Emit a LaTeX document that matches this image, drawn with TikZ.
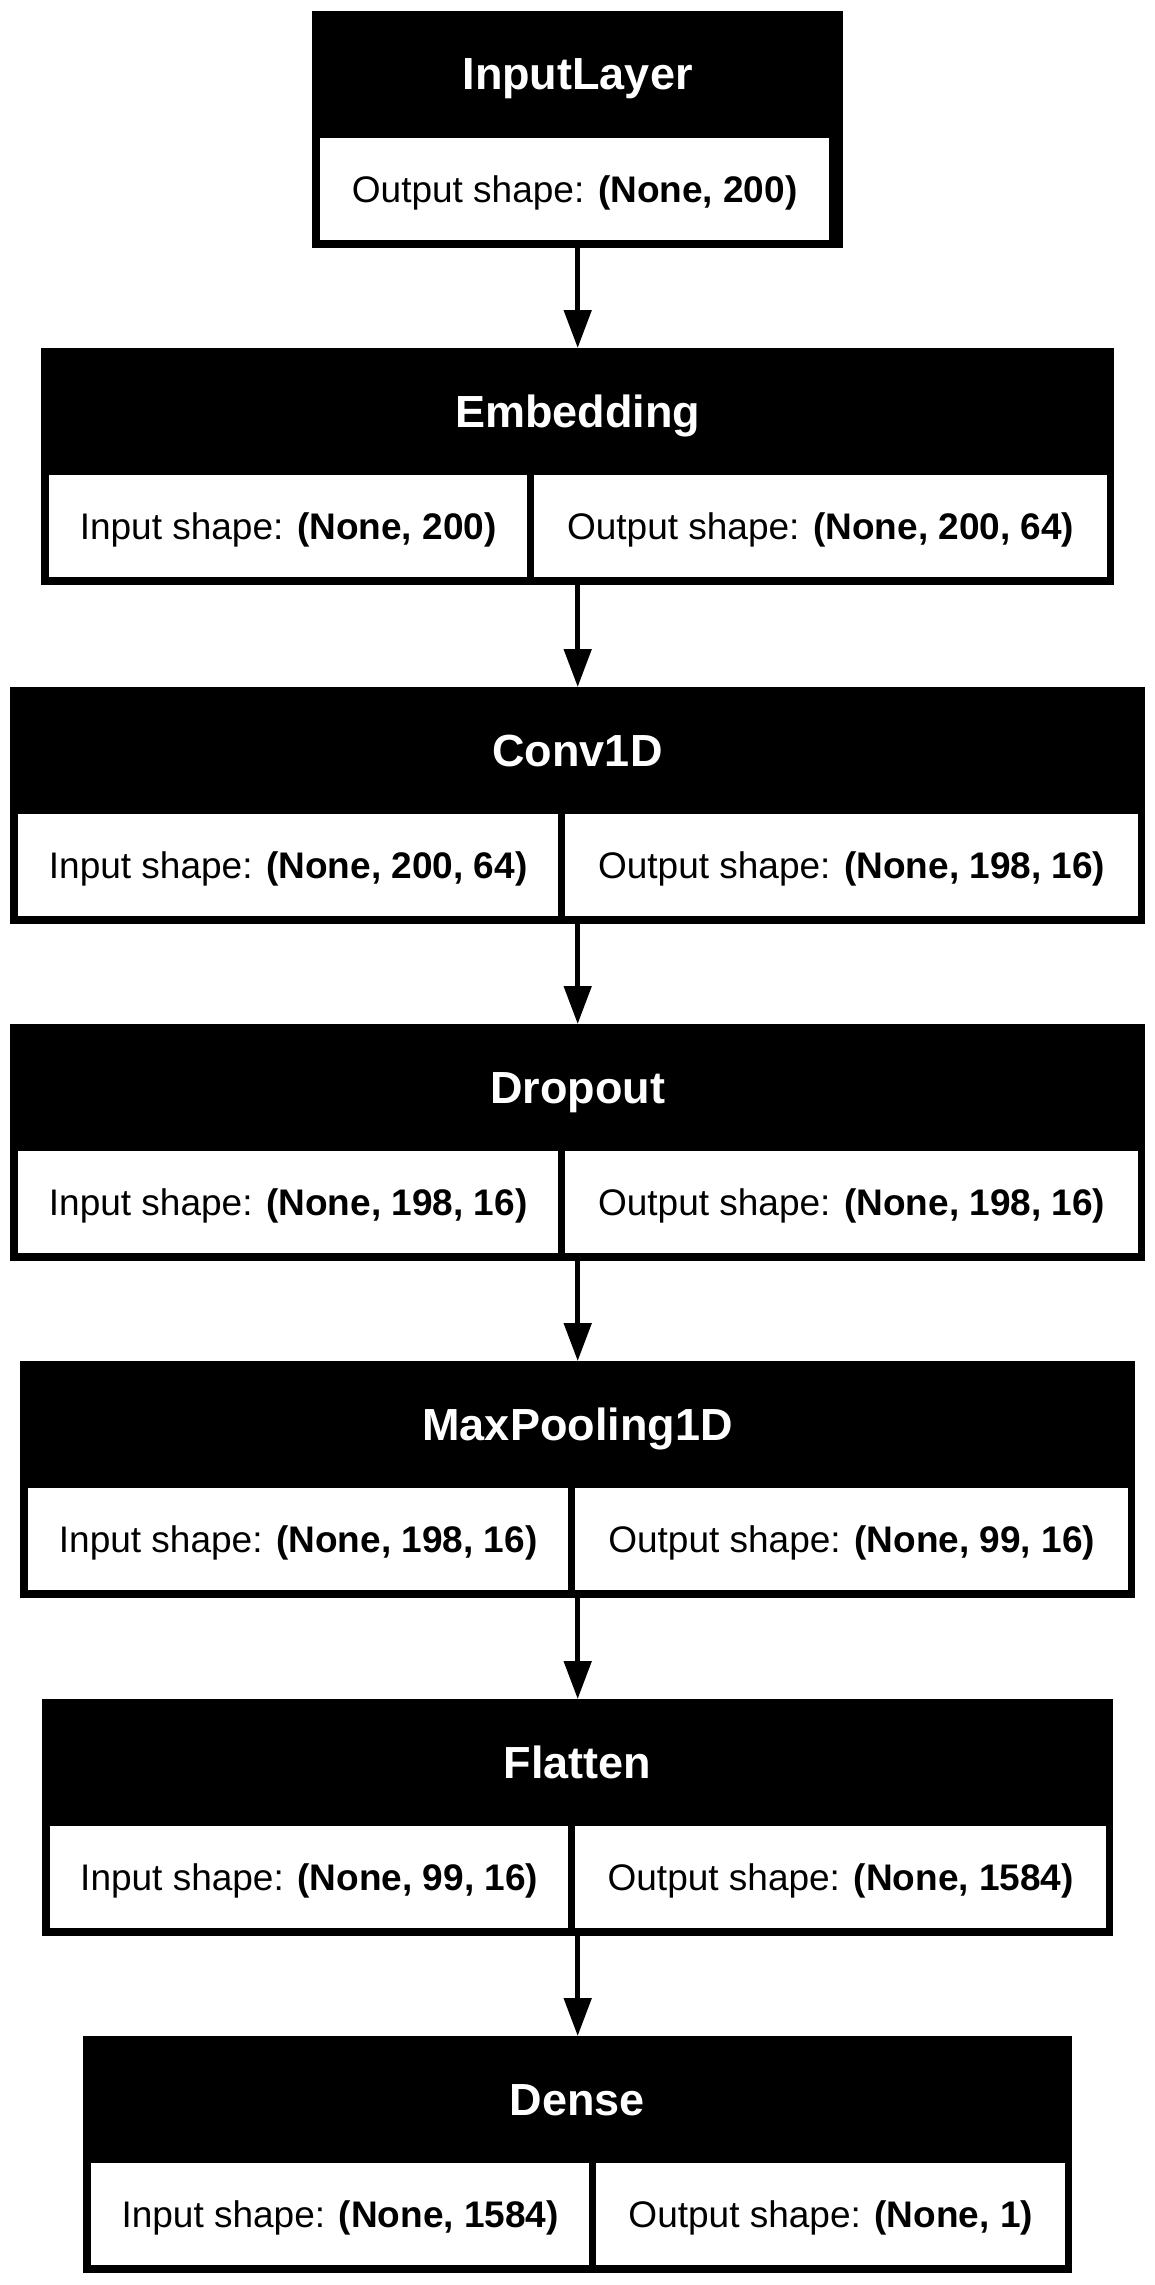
\documentclass[tikz,border=0pt]{standalone}
\usepackage{fontspec}
\setmainfont{Liberation Sans}
\usetikzlibrary{arrows.meta}

\tikzset{
  layerbox/.style={fill=black, inner sep=0pt, anchor=north west},
  shapecell/.style={fill=white, inner sep=0pt, anchor=north west, minimum height=102pt,
    text height=26.5pt, text depth=0pt, font=\fontsize{37}{43}\selectfont},
  layername/.style={text=white, inner sep=0pt, anchor=base, font=\fontsize{45}{51}\selectfont\bfseries},
  flow/.style={line width=5pt, -{Triangle[length=38pt, width=27pt]}}
}

\begin{document}
\begin{tikzpicture}[x=1pt, y=-1pt]
  % Define dimensions
  \def\midx{577.5}
  \def\headh{127}
  \def\layerh{237}
  \useasboundingbox (0,0) rectangle (1155,2285);
  % Input layer (one cell only)
  \node[layerbox, minimum width=531pt, minimum height=\layerh pt] (input) at (312,11) {};
  \node[layername] (input-title) at (\midx,90) {InputLayer};
  \node[shapecell, minimum width=509pt] (input-out) at (320,138) {Output shape: \textbf{(None, 200)}};
  % Other layers: name/title/top/left/right/cut/input/output
  \foreach \layer/\lname/\ty/\lx/\rx/\cut/\inshape/\outshape in {
      embed/Embedding/348/41/1114/527/{(None, 200)}/{(None, 200, 64)},
      conv/Conv1D/687/10/1145/558/{(None, 200, 64)}/{(None, 198, 16)},
      drop/Dropout/1024/10/1145/558/{(None, 198, 16)}/{(None, 198, 16)},
      pool/MaxPooling1D/1361/20/1135/568/{(None, 198, 16)}/{(None, 99, 16)},
      flat/Flatten/1699/42/1113/568/{(None, 99, 16)}/{(None, 1584)},
      dense/Dense/2036/83/1072/589/{(None, 1584)}/{(None, 1)}}
  {
    \pgfmathsetmacro\outerw{\rx-\lx}
    \pgfmathsetmacro\inw{\cut-\lx-8}
    \pgfmathsetmacro\outw{\rx-\cut-14}
    \node[layerbox, minimum width=\outerw pt, minimum height=\layerh pt] (\layer) at (\lx,\ty) {};
    \node[layername] (\layer-title) at (\midx,\ty+79) {\lname};
    \node[shapecell, minimum width=\inw pt] (\layer-in) at (\lx+8,\ty+\headh) {Input shape: \textbf{\inshape}};
    \node[shapecell, minimum width=\outw pt] (\layer-out) at (\cut+7,\ty+\headh) {Output shape: \textbf{\outshape}};
  }
  % Connectors
  \foreach \a/\b in {input/embed, embed/conv, conv/drop, drop/pool, pool/flat, flat/dense}
    \draw[flow] (\a.south) -- (\b.north);
\end{tikzpicture}
\end{document}
